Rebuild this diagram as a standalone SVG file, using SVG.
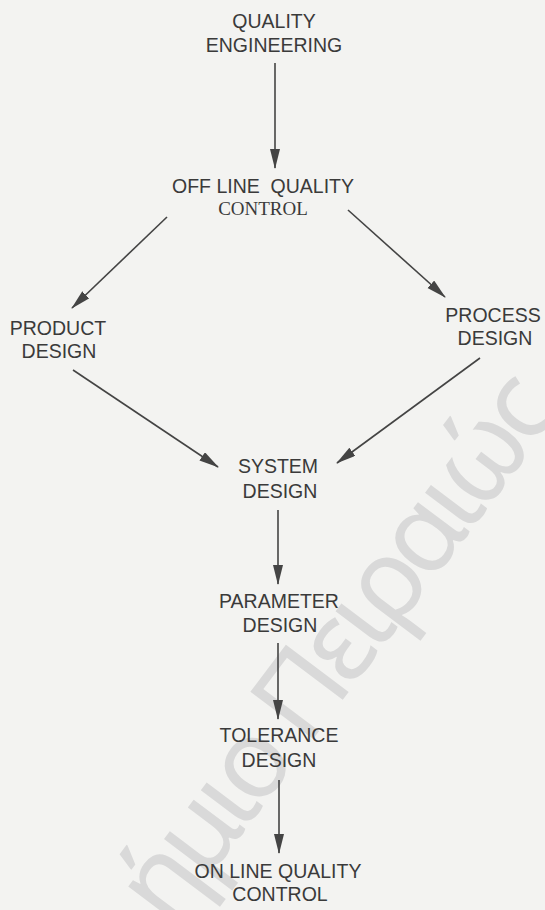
<svg xmlns="http://www.w3.org/2000/svg" width="545" height="910" viewBox="0 0 545 910">
<style>
.bg{fill:#f3f3f1}
.t{font-family:"Liberation Sans",Arial,sans-serif;font-size:19.5px;fill:#3a3a3a;text-anchor:middle}
.s{font-family:"Liberation Serif","Times New Roman",serif;font-size:19px;fill:#3a3a3a;text-anchor:middle}
.c{stroke:#444;stroke-width:1.6;fill:none;marker-end:url(#ah)}
.wm{font-family:"Noto Sans","DejaVu Sans",sans-serif;font-size:110px;letter-spacing:-7.5px;fill:#d9d9d9;text-anchor:end}
</style>
<defs>
<marker id="ah" markerUnits="userSpaceOnUse" markerWidth="20" markerHeight="12" refX="19" refY="5" orient="auto">
<path d="M0,0 L20,5 L0,10 Z" fill="#444"/>
</marker>
</defs>
<rect class="bg" x="0" y="0" width="545" height="910"/>
<text class="wm" transform="translate(559,413) rotate(-53)">ήμιο Πειραιώς</text>
<g id="connectors">
<line class="c" x1="275" y1="63" x2="275" y2="168"/>
<line class="c" x1="167" y1="217" x2="72" y2="308"/>
<line class="c" x1="348" y1="210" x2="445" y2="297"/>
<line class="c" x1="73" y1="370" x2="218" y2="467"/>
<line class="c" x1="480" y1="358" x2="337" y2="463"/>
<line class="c" x1="278" y1="510" x2="278" y2="584"/>
<line class="c" x1="278" y1="643" x2="278" y2="719"/>
<line class="c" x1="279" y1="780" x2="279" y2="853"/>
</g>
<g id="quality-engineering">
<text class="t" x="274" y="28">QUALITY</text>
<text class="t" x="274" y="52">ENGINEERING</text>
</g>
<g id="offline-qc">
<text class="t" x="263" y="193" xml:space="preserve">OFF LINE  QUALITY</text>
<text class="s" x="263" y="215">CONTROL</text>
</g>
<g id="product-design">
<text class="t" x="58" y="335">PRODUCT</text>
<text class="t" x="59" y="358">DESIGN</text>
</g>
<g id="process-design">
<text class="t" x="493" y="322">PROCESS</text>
<text class="t" x="495" y="345">DESIGN</text>
</g>
<g id="system-design">
<text class="t" x="278" y="473">SYSTEM</text>
<text class="t" x="280" y="498">DESIGN</text>
</g>
<g id="parameter-design">
<text class="t" x="279" y="608">PARAMETER</text>
<text class="t" x="280" y="632">DESIGN</text>
</g>
<g id="tolerance-design">
<text class="t" x="279" y="742">TOLERANCE</text>
<text class="t" x="279" y="767">DESIGN</text>
</g>
<g id="online-qc">
<text class="t" x="278" y="878">ON LINE QUALITY</text>
<text class="t" x="280" y="901">CONTROL</text>
</g>
</svg>
